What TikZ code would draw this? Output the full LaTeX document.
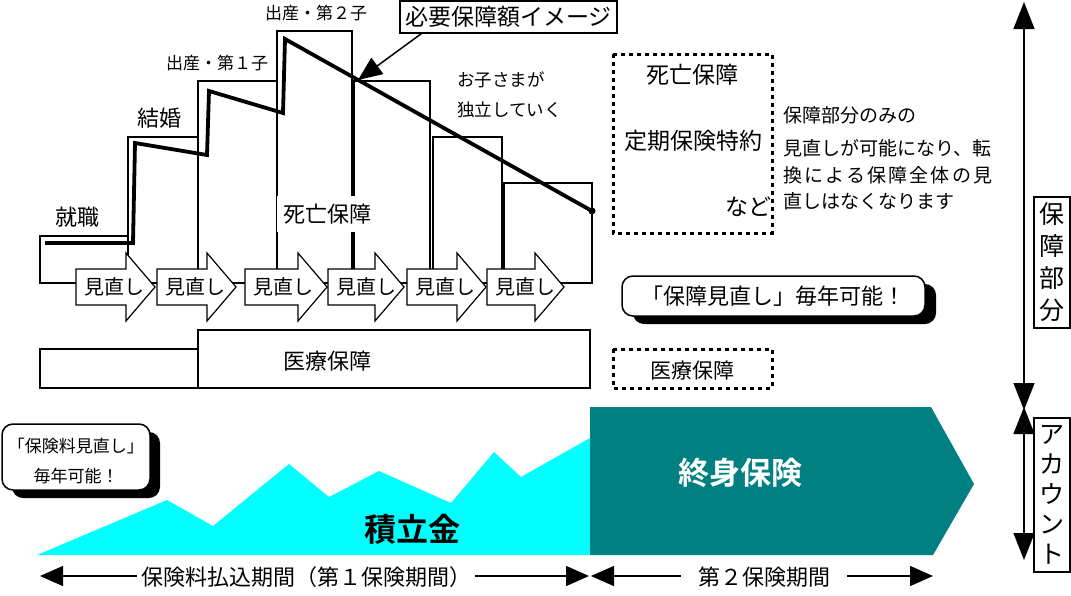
\documentclass[tikz,border=0pt]{standalone}
\usepackage{fontspec}
\setmainfont{Noto Sans CJK JP}[BoldFont={Noto Sans CJK JP Bold}]
\usetikzlibrary{arrows.meta}
\definecolor{seacyan}{RGB}{0,255,255}
\definecolor{deepteal}{RGB}{0,128,128}
\newcommand\fsz[1]{\fontsize{#1pt}{#1pt}\selectfont}
\tikzset{
  stepbox/.style={draw,line width=1.2pt},
  txt/.style={inner sep=0pt},
  dotbox/.style={draw,line width=3pt,dash pattern=on 4pt off 4pt},
  tagbox/.style={draw,line width=1.5pt,rounded corners=11pt,fill=white},
  revarrow/.style={draw,line width=1.2pt,fill=white},
}
\begin{document}
\begin{tikzpicture}[x=1pt,y=-1pt,>={Triangle[length=23pt,width=20pt]}]
\fill[white] (0,0) rectangle (1071,595);
\useasboundingbox (0,0) rectangle (1071,595);
% steps of the death cover
\foreach \a/\t/\b in {40/236/128,128/137/198,198/81/277,277/31/352,354/81/430,433/137/502,504/183/592}
  \draw[stepbox] (\a,\t) rectangle (\b,283);
\draw[line width=3.8pt] (45,243) -- (133,243) -- (135,143) -- (207,155) -- (209,91)
  -- (283,113) -- (285,39) -- (592,211);
\fill (592,211) circle[radius=3.5pt];
\node[fill=white,inner xsep=6pt,inner ysep=8pt,font=\fsz{22}] (death) at (327,214) {死亡保障};
\node[txt,font=\fsz{22}] (job) at (77,217) {就職};
\node[txt,font=\fsz{22}] (wed) at (159,118) {結婚};
\node[txt,font=\fsz{17}] (birth1) at (217,63) {出産・第１子};
\node[txt,font=\fsz{17}] (birth2) at (316,13) {出産・第２子};
\node[txt,font=\fsz{17.5},anchor=west] (grow1) at (457,80) {お子さまが};
\node[txt,font=\fsz{17.5},anchor=west] (grow2) at (457,110) {独立していく};
% pointer to the line
\node[draw,line width=1.3pt,minimum width=217pt,minimum height=32pt,inner sep=0pt,font=\fsz{23}] (need) at (508.5,17) {必要保障額イメージ};
\coordinate (hit) at (358,80);
\draw[line width=1.5pt,-{Triangle[length=24pt,width=20pt]}] ([xshift=22pt]need.south west) -- (hit);
% reviews
\foreach \l/\h [count=\i] in {76/126,157/207,245/298,328/375,407/457,487/535}{
  \draw[revarrow] (\l,269) -- (\h,269) -- (\h,253) -- (\h+29,287) -- (\h,321) -- (\h,305) -- (\l,305) -- cycle;
  \node[txt,font=\fsz{20}] (rev\i) at (\l+38,287) {見直し};
}
% medical
\draw[stepbox] (40,349) rectangle (198,388);
\draw[stepbox] (198,330) rectangle (590,388);
\node[txt,font=\fsz{22}] (med) at (327,361) {医療保障};
% right side
\draw[dotbox] (613,54) rectangle (772,233);
\node[txt,font=\fsz{23}] (death2) at (692,75) {死亡保障};
\node[txt,font=\fsz{23}] (rider) at (693,141) {定期保険特約};
\node[txt,font=\fsz{23}] (etc) at (748,207) {など};
\draw[dotbox] (613,349) rectangle (772,388);
\node[txt,font=\fsz{21}] (med2) at (692,371) {医療保障};
\node[txt,font=\fsz{19},anchor=west] (exp1) at (783,115) {保障部分のみの};
\node[txt,font=\fsz{19},anchor=west] (exp2) at (783,148) {見直しが可能になり、転};
\node[txt,font=\fsz{19},anchor=west] (exp3) at (783,175) {\makebox[209pt][s]{換\hfill に\hfill よ\hfill る\hfill 保\hfill 障\hfill 全\hfill 体\hfill の\hfill 見}};
\node[txt,font=\fsz{19},anchor=west] (exp4) at (783,201) {直しはなくなります};
\fill[rounded corners=11pt] (633,284) rectangle (936,324);
\draw[tagbox] (622,276) rectangle (925,316);
\node[txt,font=\fsz{22}] (yearly) at (773,296) {「保障見直し」毎年可能！};
% account part
\fill[seacyan] (37,555) -- (167,500) -- (213,526) -- (289,464) -- (329,497) -- (379,471)
  -- (451,503) -- (494,452) -- (521,477) -- (590,438) -- (590,555) -- cycle;
\fill[deepteal] (590,407) -- (931,407) -- (974,484) -- (933,555) -- (590,555) -- cycle;
\node[txt,font=\bfseries\fsz{32}] (fund) at (412,529) {積立金};
\node[txt,font=\bfseries\fsz{31},text=white] (whole) at (740,473) {終身保険};
\fill[rounded corners=11pt] (12,432) rectangle (160,498);
\draw[tagbox] (2,424) rectangle (150,490);
\node[txt,font={\fontsize{17pt}{30pt}\selectfont},align=center] (fee) at (76,461) {「保険料見直し」\\毎年可能！};
% periods
\draw[<->,line width=1.3pt] (40,576) -- (589,576);
\draw[<->,line width=1.3pt] (591,576) -- (933,576);
\node[fill=white,inner xsep=4pt,font=\fsz{22}] (period1) at (306,577) {保険料払込期間（第１保険期間）};
\node[fill=white,inner xsep=17pt,font=\fsz{22}] (period2) at (764,577) {第２保険期間};
% right scale
\draw[<->,line width=1.3pt,>={Triangle[length=27pt,width=21pt]}] (1024,2) -- (1024,410);
\draw[<->,line width=1.3pt,>={Triangle[length=27pt,width=21pt]}] (1024,407) -- (1024,560);
\node[draw,line width=1.2pt,minimum width=36pt,minimum height=131pt,inner sep=0pt,align=center,
  font={\fontsize{25pt}{32pt}\selectfont}] (cover) at (1052,262.5) {保\\障\\部\\分};
\node[draw,line width=1.2pt,minimum width=36pt,minimum height=154pt,inner sep=0pt,align=center,
  font={\fontsize{25pt}{30pt}\selectfont}] (acct) at (1052,495) {ア\\カ\\ウ\\ン\\ト};
\end{tikzpicture}
\end{document}
